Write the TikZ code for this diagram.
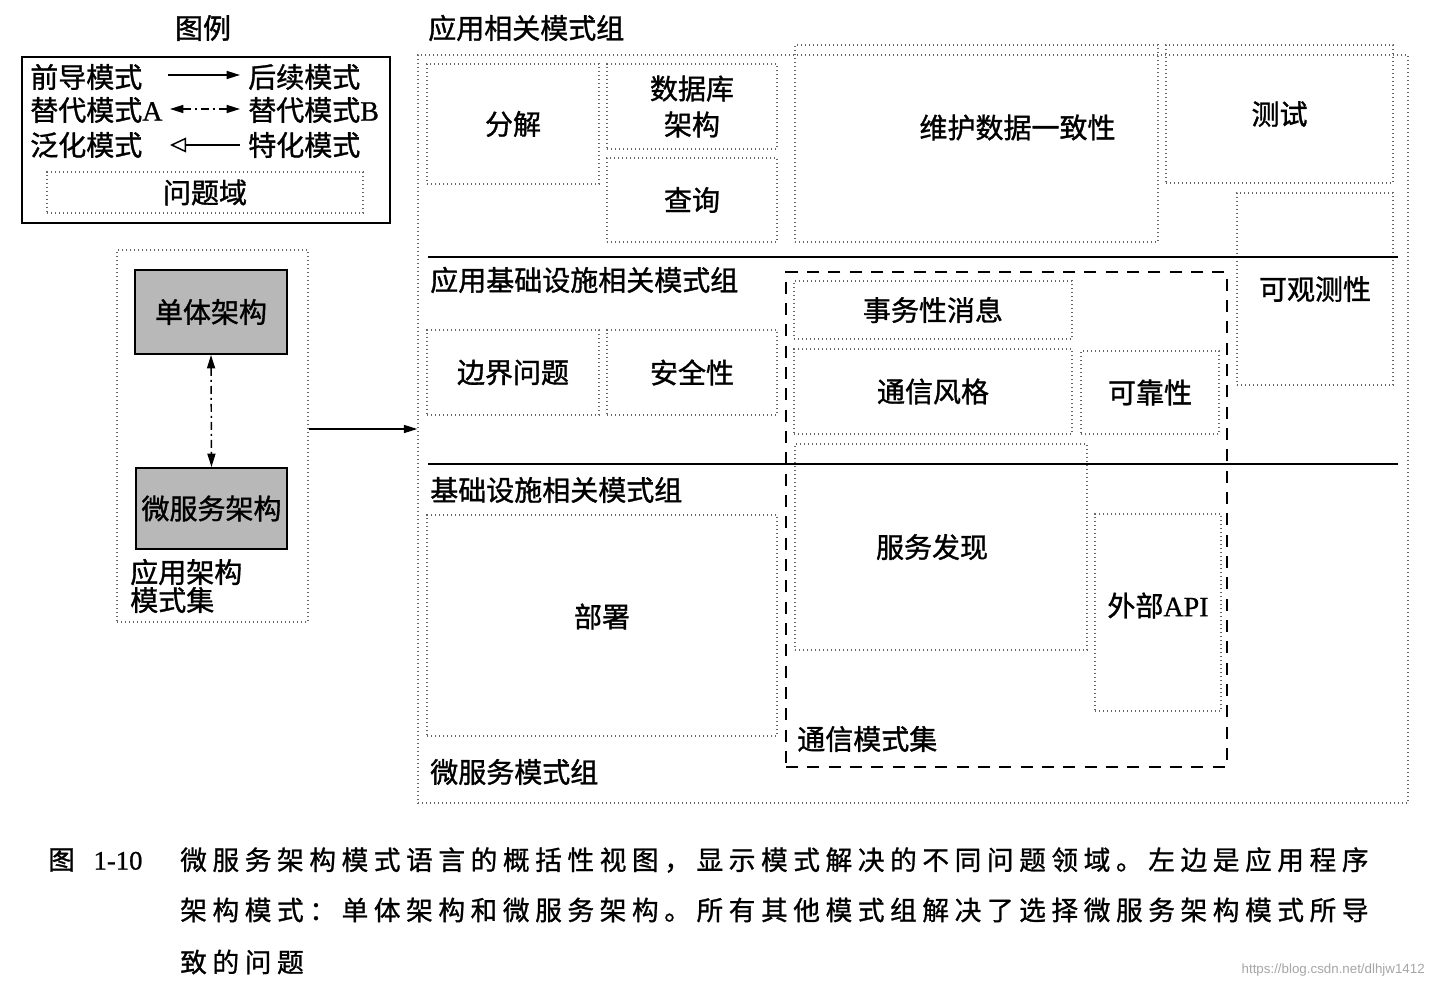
\documentclass[tikz,border=0pt]{standalone}
\usepackage{fontspec}
\setmainfont{Liberation Serif}
\newfontfamily\cjk{Noto Sans CJK SC}[FakeBold=1.2]
\newfontfamily\capfont{Noto Sans CJK SC}[LetterSpace=21,FakeBold=1]
\newfontfamily\latb{Liberation Serif}[FakeBold=0.8]
\newfontfamily\wmfont{Liberation Sans}
\usetikzlibrary{arrows.meta,calc}

\newcommand\pbox[7][]{%
  \pgfmathsetmacro\pbw{(#5-#3)*0.75}%
  \pgfmathsetmacro\pbh{(#6-#4)*0.75}%
  \node[#1, minimum width=\pbw pt, minimum height=\pbh pt] (#2) at ({(#3+#5)/2},{(#4+#6)/2}) {#7};}

\tikzset{
  txt/.style={font=\cjk\fontsize{21}{25}\selectfont, inner sep=0pt},
  dbox/.style={draw=black!60, line width=1.1pt, dash pattern=on 1.1pt off 1.9pt, txt, align=center},
  gbox/.style={draw=black, line width=1.5pt, fill=black!28, txt},
  solidl/.style={line width=1.6pt},
  dashbox/.style={draw=black, line width=1.5pt, dash pattern=on 9pt off 7pt},
  dashdot/.style={dash pattern=on 6pt off 3pt on 1.5pt off 3pt},
  arr/.style={line width=1.1pt, -{Triangle[length=10pt,width=6pt]}},
  lbl/.style={txt, anchor=west},
}

\begin{document}
\begin{tikzpicture}[x=0.75pt, y=-0.75pt]
\fill[white] (0,0) rectangle (1434,988);
\useasboundingbox (0,0) rectangle (1434,988);

% ---------- legend ----------
\node[txt] (legtitle) at (203,28) {图例};
\pbox[draw=black, line width=1.5pt]{legend}{22}{57}{390}{223}{}
\node[lbl] (pre)  at (30,77)  {前导模式};
\node[lbl] (post) at (248,77) {后续模式};
\node[lbl] (altA) at (30,110) {替代模式{\latb A}};
\node[lbl] (altB) at (248,110) {替代模式{\latb B}};
\node[lbl] (gen)  at (30,145) {泛化模式};
\node[lbl] (spec) at (248,145) {特化模式};
\coordinate (l1a) at (168,75);  \coordinate (l1b) at (240,75);
\coordinate (l2a) at (170,109); \coordinate (l2b) at (240,109);
\coordinate (l3a) at (170,145); \coordinate (l3b) at (240,145);
\draw[arr] (l1a) -- (l1b);
\draw[line width=1.1pt, dashdot, {Triangle[length=10pt,width=6pt]}-{Triangle[length=10pt,width=6pt]}] (l2a) -- (l2b);
\draw[line width=1.1pt, {Triangle[open,length=12pt,width=11pt]}-] (l3a) -- (l3b);
\pbox[dbox]{pd}{47}{172}{363}{213}{问题域}

% ---------- application architecture patterns ----------
\pbox[dbox]{appset}{117}{250}{308}{622}{}
\pbox[gbox]{mono}{135}{270}{287}{354}{单体架构}
\pbox[gbox]{micro}{136}{468}{287}{549}{微服务架构}
\node[txt, anchor=west, align=left, font=\cjk\fontsize{21}{21}\selectfont] (appsetlbl) at (130,586) {应用架构\\模式集};
\draw[line width=1.1pt, dashdot, {Triangle[length=10pt,width=6pt]}-{Triangle[length=10pt,width=6pt]}] (mono.south) -- (micro.north);

% ---------- microservice pattern groups ----------
\pbox[dbox]{ms}{418}{55}{1408}{803}{}
\draw[arr] (appset.east |- ms.west) -- (ms.west);

\node[lbl] (lblapp)    at (428,28)  {应用相关模式组};
\node[lbl] (lblappinf) at (430,280) {应用基础设施相关模式组};
\node[lbl] (lblinf)    at (430,490) {基础设施相关模式组};
\node[lbl] (lblms)     at (430,772) {微服务模式组};

\pbox[dbox]{fenjie}{427}{64}{599}{184}{分解}
\pbox[dbox, font=\cjk\fontsize{21}{27}\selectfont]{dbarch}{607}{64}{777}{149}{数据库\\架构}
\pbox[dbox]{query}{607}{158}{777}{242}{查询}
\pbox[dbox, label={[txt, xshift=30.75pt, yshift=12pt]center:维护数据一致性}]{consist}{795}{45}{1158}{242}{}
\pbox[dbox]{test}{1166}{45}{1393}{183}{测试}
\pbox[dbox]{observ}{1237}{193}{1393}{385}{可观测性}

\pbox[dbox]{boundary}{427}{330}{599}{415}{边界问题}
\pbox[dbox]{security}{607}{330}{777}{415}{安全性}

\pbox[dashbox]{commset}{786}{272}{1227}{767}{}
\node[lbl] (lblcomm) at (797,739) {通信模式集};
\pbox[dbox]{txmsg}{794}{281}{1072}{339}{事务性消息}
\pbox[dbox]{commstyle}{794}{349}{1072}{434}{通信风格}
\pbox[dbox]{reliab}{1081}{351}{1219}{434}{可靠性}
\pbox[dbox, label={[txt, xshift=-6.75pt]center:服务发现}]{discovery}{795}{444}{1087}{650}{}
\pbox[dbox, label={[txt, yshift=5.25pt]center:外部{\latb API}}]{extapi}{1095}{514}{1221}{711}{}
\pbox[dbox, label={[txt, yshift=6.75pt]center:部署}]{deploy}{427}{515}{777}{736}{}

\draw[solidl] (428,257) -- (1398,257);
\draw[solidl] (428,464) -- (1398,464);

% ---------- caption ----------
\node[anchor=west, inner sep=0pt, font=\cjk\fontsize{20}{20}\selectfont] (capnum) at (48,860) {图\hspace{14pt}{\latb 1-10}};
\node[anchor=west, inner sep=0pt, font=\capfont\fontsize{20}{20}\selectfont] (cap1) at (180,860) {微服务架构模式语言的概括性视图，显示模式解决的不同问题领域。左边是应用程序};
\node[anchor=west, inner sep=0pt, font=\capfont\fontsize{20}{20}\selectfont] (cap2) at (180,910) {架构模式：单体架构和微服务架构。所有其他模式组解决了选择微服务架构模式所导};
\node[anchor=west, inner sep=0pt, font=\capfont\fontsize{20}{20}\selectfont] (cap3) at (180,962) {致的问题};
\node[anchor=east, inner sep=0pt, font=\wmfont\fontsize{10}{10}\selectfont, text=black!35] (wm) at (1425,970) {https://blog.csdn.net/dlhjw1412};
\end{tikzpicture}
\end{document}
